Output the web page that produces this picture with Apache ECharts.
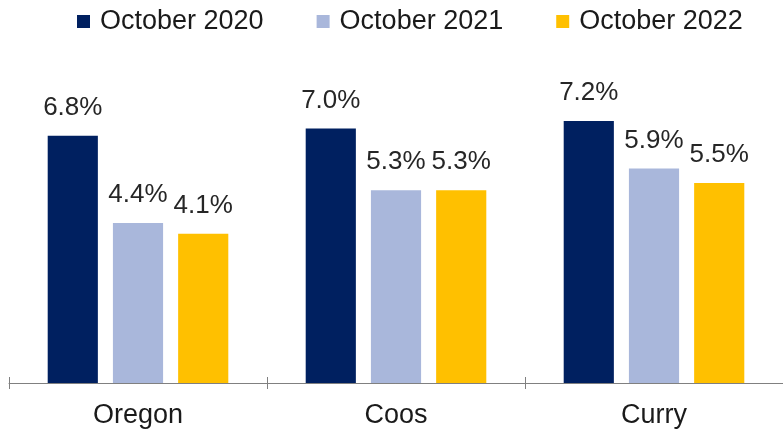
<!DOCTYPE html>
<html><head><meta charset="utf-8">
<script src="https://cdn.jsdelivr.net/npm/echarts@6/dist/echarts.min.js"></script>
<style>html,body{margin:0;padding:0;background:#fff}#c{width:783px;height:433px}</style>
</head><body><div id="c"></div>
<script>
const categories = ['Oregon', 'Coos', 'Curry'];
const seriesNames = ['October 2020', 'October 2021', 'October 2022'];
const oct2020 = [6.8, 7.0, 7.2];
const oct2021 = [4.4, 5.3, 5.9];
const oct2022 = [4.1, 5.3, 5.5];
const colors = ['#002060', '#A9B7DB', '#FFC000'];

const chart = echarts.init(document.getElementById('c'), null, {renderer: 'canvas'});
const font = 'Liberation Sans, Arial, sans-serif';
function mk(name, data, color) {
  return {
    name, type: 'bar', data, barGap: '30%', barCategoryGap: '30%',
    itemStyle: {color},
    label: {show: true, position: 'top', distance: 15, formatter: p => p.value.toFixed(1) + '%',
      fontFamily: font, fontSize: 26, color: '#262626'}
  };
}
chart.setOption({
  animation: false,
  legend: {
    top: 3, left: 72, itemWidth: 13, itemHeight: 13, itemGap: 53, icon: 'rect',
    textStyle: {fontFamily: font, fontSize: 27, color: '#1a1a1a', padding: [0, 0, 0, 5]},
    data: seriesNames
  },
  grid: {left: 9, right: 0, top: 92, bottom: 50, containLabel: false},
  xAxis: [{
    type: 'category', data: categories,
    axisLine: {lineStyle: {color: '#808080', width: 1}},
    axisTick: {show: true, length: 6, lineStyle: {color: '#808080'}},
    axisLabel: {fontFamily: font, fontSize: 27, color: '#1a1a1a', margin: 19}
  }, {
    type: 'category', data: categories, position: 'bottom',
    axisLine: {show: false},
    axisTick: {show: true, inside: true, length: 6, lineStyle: {color: '#808080'}},
    axisLabel: {show: false}
  }],
  yAxis: {type: 'value', min: 0, max: 8, show: false, splitLine: {show: false}},
  series: [mk(seriesNames[0], oct2020, colors[0]), mk(seriesNames[1], oct2021, colors[1]), mk(seriesNames[2], oct2022, colors[2])]
});
</script></body></html>
